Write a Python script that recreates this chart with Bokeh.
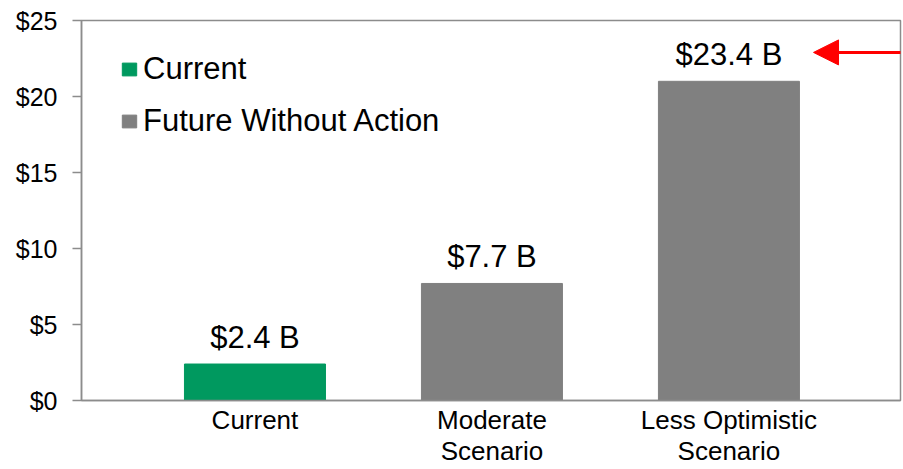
from bokeh.plotting import figure
from bokeh.models import ColumnDataSource, Range1d, NumeralTickFormatter, FixedTicker, Arrow, NormalHead
from bokeh.core.properties import value
from bokeh.embed import file_html
from bokeh.resources import INLINE

# ---- data ----
categories = ["Current", "Moderate\nScenario", "Less Optimistic\nScenario"]
bar_values = [2.4, 7.7, 21.0]
bar_labels = ["$2.4 B", "$7.7 B", "$23.4 B"]
groups = ["Current", "Future Without Action", "Future Without Action"]
y_ticks = [0, 5, 10, 15, 20, 25]

GREEN = "#00995F"
GRAY = "#808080"
AXIS = "#8C8C8C"
FONT = "Liberation Sans"

xs = list(range(len(categories)))
colors = [GREEN if g == "Current" else GRAY for g in groups]
src = ColumnDataSource(dict(x=xs, top=bar_values, label=bar_labels, group=groups, color=colors))

p = figure(width=903, height=469, output_backend="svg", toolbar_location=None,
           x_range=Range1d(-0.732, 2.724), y_range=Range1d(0, 25),
           min_border_left=81, min_border_right=3, min_border_top=20, min_border_bottom=69)
p.xgrid.visible = False
p.ygrid.visible = False
p.outline_line_color = AXIS
p.outline_line_width = 1.5
p.background_fill_color = "white"
p.border_fill_color = "white"

p.vbar(x="x", top="top", width=0.595, color="color", source=src, legend_field="group")

p.text(x="x", y="top", text="label", source=src, text_align="center", text_baseline="alphabetic",
       y_offset=-27, text_font=value(FONT), text_font_size="31px", text_color="black")

# axes
p.yaxis.ticker = FixedTicker(ticks=y_ticks)
p.yaxis.formatter = NumeralTickFormatter(format="$0")
p.yaxis.minor_tick_line_color = None
p.yaxis.major_tick_out = 9
p.yaxis.major_tick_in = 0
p.yaxis.axis_line_color = AXIS
p.yaxis.axis_line_width = 1.5
p.yaxis.major_tick_line_color = AXIS
p.yaxis.major_tick_line_width = 1.5
p.yaxis.major_label_text_font = FONT
p.yaxis.major_label_text_font_size = "25px"
p.yaxis.major_label_text_color = "black"
p.yaxis.major_label_standoff = 15

p.xaxis.ticker = FixedTicker(ticks=xs)
p.xaxis.major_label_overrides = {i: c for i, c in zip(xs, categories)}
p.xaxis.minor_tick_line_color = None
p.xaxis.major_tick_line_color = None
p.xaxis.axis_line_color = AXIS
p.xaxis.axis_line_width = 1.5
p.xaxis.major_label_text_font = FONT
p.xaxis.major_label_text_font_size = "26px"
p.xaxis.major_label_text_line_height = 1.05
p.xaxis.major_label_text_color = "black"
p.xaxis.major_label_standoff = -2

# legend
leg = p.legend[0]
leg.location = (39, 261)
leg.margin = 0
leg.padding = 0
leg.border_line_color = None
leg.background_fill_alpha = 0
leg.glyph_width = 18
leg.glyph_height = 16
leg.label_height = 36
leg.spacing = 16
leg.label_standoff = 5
leg.label_text_font = FONT
leg.label_text_font_size = "31px"
leg.label_text_color = "black"

# red arrow pointing at the top label
p.add_layout(Arrow(end=NormalHead(size=25, fill_color="red", line_color="red"),
                   x_start=2.745, y_start=22.9, x_end=2.357, y_end=22.9,
                   line_color="red", line_width=3))

open("out.html", "w").write(file_html(p, INLINE))
